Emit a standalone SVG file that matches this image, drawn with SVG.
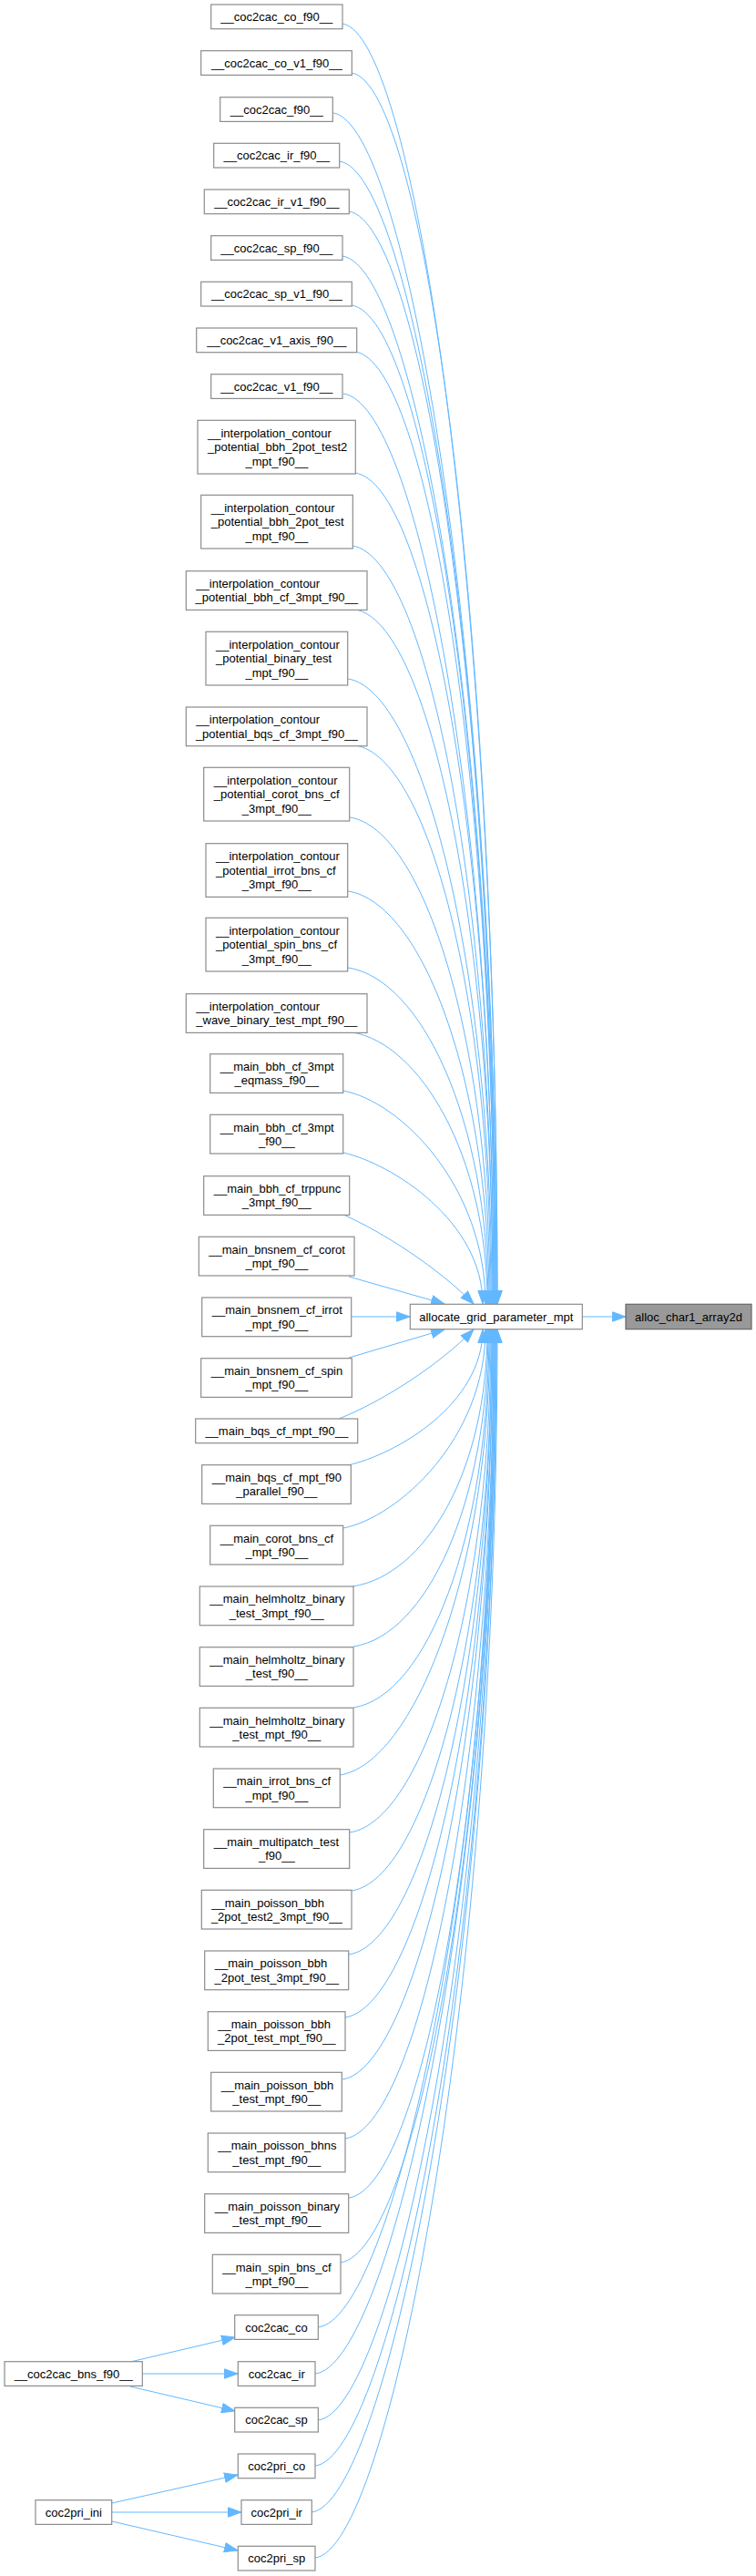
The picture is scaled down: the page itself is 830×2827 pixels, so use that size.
<svg xmlns="http://www.w3.org/2000/svg" width="830" height="2827" viewBox="0 0 830 2827">
<style>
.n rect{fill:#ffffff;stroke:#8c8c8c;stroke-width:1.2}
.h rect{fill:#999999;stroke:#666666;stroke-width:1.2}
text{font-family:"Liberation Sans",Arial,Helvetica,sans-serif;font-size:13px;fill:#000000}
.c{text-anchor:middle}
.l{text-anchor:start}
.e path{fill:none;stroke:#63b8ff;stroke-width:1;marker-end:url(#ah)}
</style>
<defs>
<marker id="ah" markerUnits="userSpaceOnUse" viewBox="0 0 16 12" refX="15" refY="6" markerWidth="16" markerHeight="12" orient="auto">
<path d="M0.5,0.8 L15,6 L0.5,11.2 Z" fill="#63b8ff" stroke="#63b8ff" stroke-width="1"/>
</marker>
</defs>
<rect x="0" y="0" width="830" height="2827" fill="#ffffff"/>
<g id="edges" class="e">
<path d="M376,26 C456,38 546,658 546,1431"/>
<path d="M386,80 C466,92 546,688 546,1431"/>
<path d="M366,124 C446,136 545,712 545,1431"/>
<path d="M373,177 C453,189 545,741 545,1431"/>
<path d="M383,232 C463,244 544,772 544,1431"/>
<path d="M376,281 C456,293 544,799 544,1431"/>
<path d="M386,335 C466,347 543,828 543,1431"/>
<path d="M390,386 C470,398 543,856 543,1431"/>
<path d="M377,432 C457,444 542,882 542,1431"/>
<path d="M390,519 C470,531 542,929 542,1431"/>
<path d="M387,599 C467,611 541,973 541,1431"/>
<path d="M390,669 C470,681 541,1012 541,1431"/>
<path d="M382,745 C462,757 540,1054 540,1431"/>
<path d="M390,818 C470,830 539,1094 539,1431"/>
<path d="M384,897 C464,909 538,1137 538,1431"/>
<path d="M382,978 C462,990 537,1182 537,1431"/>
<path d="M382,1062 C462,1074 536,1228 536,1431"/>
<path d="M387,1133 C460,1145 535,1267 535,1431"/>
<path d="M377,1197 C440,1209 533,1302 533,1431"/>
<path d="M377,1265 C430,1277 530,1340 530,1431"/>
<path d="M377,1333 C420,1352 482,1392 520,1431"/>
<path d="M383,1401 L488,1431"/>
<path d="M386,1445 L450,1445"/>
<path d="M383,1490 L488,1459"/>
<path d="M372,1557 C420,1538 482,1498 520,1459"/>
<path d="M382,1608 C435,1596 530,1541 530,1459"/>
<path d="M377,1677 C437,1665 533,1579 533,1459"/>
<path d="M387,1741 C467,1729 535,1614 535,1459"/>
<path d="M388,1807 C468,1795 536,1650 536,1459"/>
<path d="M388,1874 C468,1862 537,1687 537,1459"/>
<path d="M373,1948 C453,1936 538,1728 538,1459"/>
<path d="M384,2011 C464,1999 539,1763 539,1459"/>
<path d="M386,2075 C466,2063 540,1798 540,1459"/>
<path d="M383,2145 C463,2133 540,1836 540,1459"/>
<path d="M379,2214 C459,2202 541,1874 541,1459"/>
<path d="M376,2282 C456,2270 541,1912 541,1459"/>
<path d="M379,2347 C459,2335 542,1947 542,1459"/>
<path d="M383,2412 C463,2400 542,1983 542,1459"/>
<path d="M374,2483 C454,2471 543,2022 543,1459"/>
<path d="M349,2554 C429,2546 543,2061 543,1459"/>
<path d="M346,2605 C426,2597 544,2089 544,1459"/>
<path d="M349,2656 C429,2648 544,2117 544,1459"/>
<path d="M346,2706 C426,2698 545,2145 545,1459"/>
<path d="M342,2757 C422,2749 545,2173 545,1459"/>
<path d="M346,2807 C426,2799 546,2200 546,1459"/>
<path d="M639,1445 L687,1445"/>
<path d="M143,2592 L258,2565"/>
<path d="M156,2605 L261,2605"/>
<path d="M143,2619 L258,2646"/>
<path d="M123,2747 L261,2716"/>
<path d="M123,2757 L265,2757"/>
<path d="M123,2767 L261,2799"/>
</g>
<g id="n_alloc_char1_array2d" class="h"><rect x="687" y="1431.3" width="138" height="27.4"/><text class="c" x="756" y="1449.6">alloc_char1_array2d</text></g>
<g id="n_allocate_grid_parameter_mpt" class="n"><rect x="450.3" y="1431.3" width="189" height="27.4"/><text class="c" x="544.8" y="1449.6">allocate_grid_parameter_mpt</text></g>
<g id="n0" class="n"><rect x="231.7" y="5" width="144.3" height="26.7"/><text class="c" x="303.8" y="23">__coc2cac_co_f90__</text></g>
<g id="n1" class="n"><rect x="220.7" y="55.7" width="165.6" height="26.7"/><text class="c" x="303.8" y="73.6">__coc2cac_co_v1_f90__</text></g>
<g id="n2" class="n"><rect x="241.7" y="106.7" width="123.6" height="26.7"/><text class="c" x="303.8" y="124.6">__coc2cac_f90__</text></g>
<g id="n3" class="n"><rect x="234.7" y="157.3" width="138" height="26.7"/><text class="c" x="303.8" y="175.3">__coc2cac_ir_f90__</text></g>
<g id="n4" class="n"><rect x="224.3" y="208" width="159" height="26.7"/><text class="c" x="303.8" y="226">__coc2cac_ir_v1_f90__</text></g>
<g id="n5" class="n"><rect x="231.7" y="258.7" width="144.3" height="26.7"/><text class="c" x="303.8" y="276.6">__coc2cac_sp_f90__</text></g>
<g id="n6" class="n"><rect x="220.7" y="309.3" width="165.6" height="26.7"/><text class="c" x="303.8" y="327.3">__coc2cac_sp_v1_f90__</text></g>
<g id="n7" class="n"><rect x="215.7" y="360" width="176" height="26.7"/><text class="c" x="303.8" y="378">__coc2cac_v1_axis_f90__</text></g>
<g id="n8" class="n"><rect x="231.7" y="410.7" width="144.3" height="26.7"/><text class="c" x="303.8" y="428.6">__coc2cac_v1_f90__</text></g>
<g id="n9" class="n"><rect x="217" y="461.3" width="173.3" height="58.7"/><text class="l" x="228" y="479.7">__interpolation_contour</text><text class="l" x="228" y="495.3">_potential_bbh_2pot_test2</text><text class="c" x="303.8" y="510.9">_mpt_f90__</text></g>
<g id="n10" class="n"><rect x="220.7" y="543.3" width="166.6" height="58.7"/><text class="l" x="231.7" y="561.7">__interpolation_contour</text><text class="l" x="231.7" y="577.3">_potential_bbh_2pot_test</text><text class="c" x="303.8" y="592.9">_mpt_f90__</text></g>
<g id="n11" class="n"><rect x="204.3" y="626.7" width="198.7" height="42.7"/><text class="l" x="215.3" y="644.8">__interpolation_contour</text><text class="c" x="303.8" y="660.4">_potential_bbh_cf_3mpt_f90__</text></g>
<g id="n12" class="n"><rect x="226" y="693.3" width="155.7" height="58.7"/><text class="l" x="237" y="711.7">__interpolation_contour</text><text class="l" x="237" y="727.3">_potential_binary_test</text><text class="c" x="303.8" y="742.9">_mpt_f90__</text></g>
<g id="n13" class="n"><rect x="204.3" y="776" width="198.7" height="42.7"/><text class="l" x="215.3" y="794.1">__interpolation_contour</text><text class="c" x="303.8" y="809.7">_potential_bqs_cf_3mpt_f90__</text></g>
<g id="n14" class="n"><rect x="223.7" y="842.3" width="160" height="58.7"/><text class="l" x="234.7" y="860.7">__interpolation_contour</text><text class="l" x="234.7" y="876.3">_potential_corot_bns_cf</text><text class="c" x="303.8" y="891.9">_3mpt_f90__</text></g>
<g id="n15" class="n"><rect x="226" y="925.7" width="155.7" height="58.7"/><text class="l" x="237" y="944">__interpolation_contour</text><text class="l" x="237" y="959.6">_potential_irrot_bns_cf</text><text class="c" x="303.8" y="975.2">_3mpt_f90__</text></g>
<g id="n16" class="n"><rect x="226" y="1007.3" width="155.7" height="58.7"/><text class="l" x="237" y="1025.7">__interpolation_contour</text><text class="l" x="237" y="1041.3">_potential_spin_bns_cf</text><text class="c" x="303.8" y="1056.9">_3mpt_f90__</text></g>
<g id="n17" class="n"><rect x="204.3" y="1090.7" width="198.7" height="42.7"/><text class="l" x="215.3" y="1108.8">__interpolation_contour</text><text class="c" x="303.8" y="1124.4">_wave_binary_test_mpt_f90__</text></g>
<g id="n18" class="n"><rect x="230.7" y="1156.7" width="146" height="42.7"/><text class="l" x="241.7" y="1174.8">__main_bbh_cf_3mpt</text><text class="c" x="303.8" y="1190.4">_eqmass_f90__</text></g>
<g id="n19" class="n"><rect x="230.7" y="1223.3" width="146" height="42.7"/><text class="l" x="241.7" y="1241.5">__main_bbh_cf_3mpt</text><text class="c" x="303.8" y="1257.1">_f90__</text></g>
<g id="n20" class="n"><rect x="223.7" y="1290.7" width="160" height="42.7"/><text class="l" x="234.7" y="1308.8">__main_bbh_cf_trppunc</text><text class="c" x="303.8" y="1324.4">_3mpt_f90__</text></g>
<g id="n21" class="n"><rect x="218.3" y="1357.3" width="170.7" height="42.7"/><text class="l" x="229.3" y="1375.5">__main_bnsnem_cf_corot</text><text class="c" x="303.8" y="1391.1">_mpt_f90__</text></g>
<g id="n22" class="n"><rect x="221.7" y="1424" width="164" height="42.7"/><text class="l" x="232.7" y="1442.1">__main_bnsnem_cf_irrot</text><text class="c" x="303.8" y="1457.7">_mpt_f90__</text></g>
<g id="n23" class="n"><rect x="220.7" y="1490.7" width="165.6" height="42.7"/><text class="l" x="231.7" y="1508.8">__main_bnsnem_cf_spin</text><text class="c" x="303.8" y="1524.4">_mpt_f90__</text></g>
<g id="n24" class="n"><rect x="214.7" y="1557" width="178" height="26.7"/><text class="c" x="303.8" y="1574.9">__main_bqs_cf_mpt_f90__</text></g>
<g id="n25" class="n"><rect x="221.7" y="1607.7" width="163.6" height="42.7"/><text class="l" x="232.7" y="1625.8">__main_bqs_cf_mpt_f90</text><text class="c" x="303.8" y="1641.4">_parallel_f90__</text></g>
<g id="n26" class="n"><rect x="230.7" y="1674.3" width="146" height="42.7"/><text class="l" x="241.7" y="1692.5">__main_corot_bns_cf</text><text class="c" x="303.8" y="1708.1">_mpt_f90__</text></g>
<g id="n27" class="n"><rect x="219.3" y="1741" width="168.7" height="42.7"/><text class="l" x="230.3" y="1759.1">__main_helmholtz_binary</text><text class="c" x="303.8" y="1774.7">_test_3mpt_f90__</text></g>
<g id="n28" class="n"><rect x="219.3" y="1807.7" width="168.7" height="42.7"/><text class="l" x="230.3" y="1825.8">__main_helmholtz_binary</text><text class="c" x="303.8" y="1841.4">_test_f90__</text></g>
<g id="n29" class="n"><rect x="219.3" y="1874.3" width="168.7" height="42.7"/><text class="l" x="230.3" y="1892.5">__main_helmholtz_binary</text><text class="c" x="303.8" y="1908.1">_test_mpt_f90__</text></g>
<g id="n30" class="n"><rect x="234.3" y="1941" width="139" height="42.7"/><text class="l" x="245.3" y="1959.1">__main_irrot_bns_cf</text><text class="c" x="303.8" y="1974.7">_mpt_f90__</text></g>
<g id="n31" class="n"><rect x="223.7" y="2007.7" width="160" height="42.7"/><text class="l" x="234.7" y="2025.8">__main_multipatch_test</text><text class="c" x="303.8" y="2041.4">_f90__</text></g>
<g id="n32" class="n"><rect x="221.3" y="2074.3" width="164.7" height="42.7"/><text class="l" x="232.3" y="2092.5">__main_poisson_bbh</text><text class="c" x="303.8" y="2108.1">_2pot_test2_3mpt_f90__</text></g>
<g id="n33" class="n"><rect x="224.7" y="2141" width="158" height="42.7"/><text class="l" x="235.7" y="2159.1">__main_poisson_bbh</text><text class="c" x="303.8" y="2174.7">_2pot_test_3mpt_f90__</text></g>
<g id="n34" class="n"><rect x="228.3" y="2207.7" width="150.7" height="42.7"/><text class="l" x="239.3" y="2225.8">__main_poisson_bbh</text><text class="c" x="303.8" y="2241.4">_2pot_test_mpt_f90__</text></g>
<g id="n35" class="n"><rect x="231.7" y="2274.3" width="143.6" height="42.7"/><text class="l" x="242.7" y="2292.5">__main_poisson_bbh</text><text class="c" x="303.8" y="2308.1">_test_mpt_f90__</text></g>
<g id="n36" class="n"><rect x="228.3" y="2341" width="150.7" height="42.7"/><text class="l" x="239.3" y="2359.1">__main_poisson_bhns</text><text class="c" x="303.8" y="2374.7">_test_mpt_f90__</text></g>
<g id="n37" class="n"><rect x="224.7" y="2407.7" width="158" height="42.7"/><text class="l" x="235.7" y="2425.8">__main_poisson_binary</text><text class="c" x="303.8" y="2441.4">_test_mpt_f90__</text></g>
<g id="n38" class="n"><rect x="233.3" y="2474.3" width="140.7" height="42.7"/><text class="l" x="244.3" y="2492.5">__main_spin_bns_cf</text><text class="c" x="303.8" y="2508.1">_mpt_f90__</text></g>
<g id="n39" class="n"><rect x="257.7" y="2540.7" width="91.6" height="26.7"/><text class="c" x="303.5" y="2558.6">coc2cac_co</text></g>
<g id="n40" class="n"><rect x="261.3" y="2591.7" width="84.7" height="26.7"/><text class="c" x="303.7" y="2609.6">coc2cac_ir</text></g>
<g id="n41" class="n"><rect x="257.7" y="2642.3" width="91.6" height="26.7"/><text class="c" x="303.5" y="2660.3">coc2cac_sp</text></g>
<g id="n42" class="n"><rect x="261.3" y="2693" width="84.7" height="26.7"/><text class="c" x="303.7" y="2710.9">coc2pri_co</text></g>
<g id="n43" class="n"><rect x="265" y="2743.7" width="77.3" height="26.7"/><text class="c" x="303.7" y="2761.6">coc2pri_ir</text></g>
<g id="n44" class="n"><rect x="261.3" y="2794.3" width="84.7" height="26.7"/><text class="c" x="303.7" y="2812.3">coc2pri_sp</text></g>
<g id="n_coc2cac_bns_f90" class="n"><rect x="5" y="2591.7" width="151.3" height="26.7"/><text class="c" x="80.7" y="2609.6">__coc2cac_bns_f90__</text></g>
<g id="n_coc2pri_ini" class="n"><rect x="39" y="2743.7" width="83.7" height="26.7"/><text class="c" x="80.9" y="2761.6">coc2pri_ini</text></g>
</svg>
